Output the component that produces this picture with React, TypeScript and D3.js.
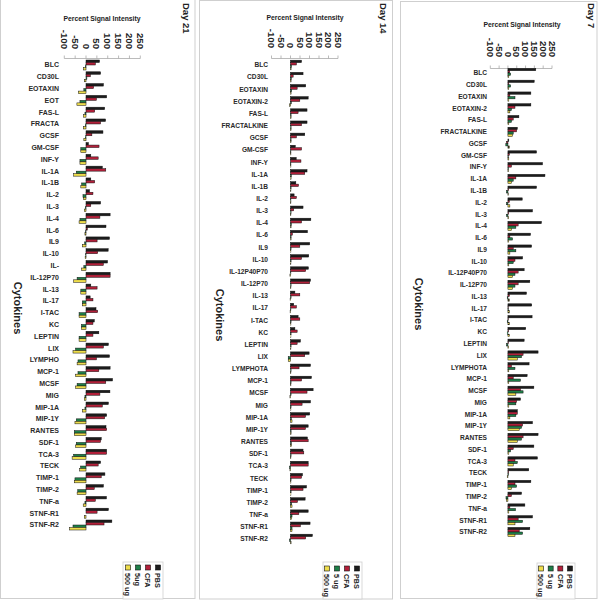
import React from "react";
import * as d3 from "d3";

const seriesKeys = ["PBS", "CFA", "5ug", "500ug"];
const seriesColors = ["#1c1c1c", "#b3203a", "#1e7f48", "#eedd4c"];
const tickValues = [-100, -50, 0, 50, 100, 150, 200, 250];

// Day 21
const day21Categories = ["BLC", "CD30L", "EOTAXIN", "EOT", "FAS-L", "FRACTA", "GCSF", "GM-CSF", "INF-Y", "IL-1A", "IL-1B", "IL-2", "IL-3", "IL-4", "IL-6", "IL9", "IL-10", "IL-", "IL-12P70", "IL-13", "IL-17", "I-TAC", "KC", "LEPTIN", "LIX", "LYMPHO", "MCP-1", "MCSF", "MIG", "MIP-1A", "MIP-1Y", "RANTES", "SDF-1", "TCA-3", "TECK", "TIMP-1", "TIMP-2", "TNF-a", "STNF-R1", "STNF-R2"];
const day21PBS = [62, 67, 80, 95, 86, 90, 78, 11, 22, 75, 22, 16, 67, 111, 92, 108, 102, 99, 111, 22, 19, 46, 38, 59, 103, 108, 111, 122, 110, 103, 95, 92, 70, 95, 67, 87, 80, 94, 103, 119];
const day21CFA = [43, 20, 35, 48, 40, 67, 27, 60, 56, 91, 40, 32, 22, 64, 6, 51, 54, 80, 111, 51, 32, 54, 32, 32, 80, 48, 59, 91, 64, 75, 86, 95, 67, 95, 56, 70, 38, 43, 51, 83];
const day21Low = [-3, 4, -10, -28, -5, -3, -3, -24, -28, -45, -20, -14, -3, -28, -2, -6, -2, -10, -41, -24, -17, -32, -21, -32, -48, -37, -37, -41, -5, -5, -45, -54, -45, -57, -25, -51, -38, -5, 0, -60];
const day21High = [-12, -8, -35, -42, -12, -12, -10, -24, -28, -57, -24, -12, -8, -32, -5, -17, -4, -20, -57, -24, -17, -32, -21, -32, -60, -41, -48, -48, -8, -17, -51, -54, -48, -64, -29, -54, -41, -13, -8, -76];

// Day 14
const day14Categories = ["BLC", "CD30L", "EOTAXIN", "EOTAXIN-2", "FAS-L", "FRACTALKINE", "GCSF", "GM-CSF", "INF-Y", "IL-1A", "IL-1B", "IL-2", "IL-3", "IL-4", "IL-6", "IL9", "IL-10", "IL-12P40P70", "IL-12P70", "IL-13", "IL-17", "I-TAC", "KC", "LEPTIN", "LIX", "LYMPHOTA", "MCP-1", "MCSF", "MIG", "MIP-1A", "MIP-1Y", "RANTES", "SDF-1", "TCA-3", "TECK", "TIMP-1", "TIMP-2", "TNF-a", "STNF-R1", "STNF-R2"];
const day14PBS = [58, 66, 80, 93, 87, 87, 75, 25, 30, 87, 28, 19, 66, 107, 89, 101, 96, 94, 105, 23, 17, 40, 23, 52, 98, 105, 110, 119, 105, 101, 93, 89, 66, 93, 63, 84, 77, 93, 103, 115];
const day14CFA = [31, 14, 35, 49, 40, 58, 31, 58, 55, 75, 42, 31, 17, 58, 10, 49, 58, 80, 101, 49, 31, 49, 35, 35, 75, 45, 58, 87, 61, 79, 79, 93, 70, 93, 58, 66, 37, 44, 52, 80];
const day14Low = [5, 4, 6, 4, 3, 3, 3, 2, 2, 4, 3, 2, 3, 4, 3, 3, 3, 2, 3, 3, 2, 3, 3, 3, -12, 3, 3, 3, 3, 4, 3, 4, 3, -5, 3, 3, 6, 8, 8, -5];
const day14High = [3, 3, 3, -5, 3, 3, 3, 2, 2, 3, 2, 2, 2, 3, 3, 2, 2, -3, 2, -2, -2, 2, 2, 2, -12, 2, 2, -3, 2, 8, 3, 5, 2, -3, 2, 2, 8, 6, 8, 3];

// Day 7
const day7Categories = ["BLC", "CD30L", "EOTAXIN", "EOTAXIN-2", "FAS-L", "FRACTALKINE", "GCSF", "GM-CSF", "INF-Y", "IL-1A", "IL-1B", "IL-2", "IL-3", "IL-4", "IL-6", "IL9", "IL-10", "IL-12P40P70", "IL-12P70", "IL-13", "IL-17", "I-TAC", "KC", "LEPTIN", "LIX", "LYMPHOTA", "MCP-1", "MCSF", "MIG", "MIP-1A", "MIP-1Y", "RANTES", "SDF-1", "TCA-3", "TECK", "TIMP-1", "TIMP-2", "TNF-a", "STNF-R1", "STNF-R2"];
const day7PBS = [158, 149, 130, 130, 62, 53, 5, 162, 196, 210, 162, 81, 139, 190, 128, 134, 83, 92, 124, 105, 135, 137, 101, 92, 171, 120, 109, 147, 71, 53, 139, 171, 147, 167, 118, 130, 77, 96, 139, 124];
const day7CFA = [10, 5, 11, 40, 30, 49, -8, 8, 20, 45, 4, 8, 4, 58, 11, 30, 40, 58, 58, 8, 2, 2, 4, 3, 86, 20, 30, 71, 49, 53, 83, 86, 30, 40, 4, 40, 20, 11, 58, 64];
const day7Low = [15, 15, 40, 20, 20, 30, -12, 2, 3, 30, -8, -8, -8, 45, 26, 45, 30, 40, 40, -4, 2, -4, -4, -8, 77, 40, 71, 86, 45, 45, 77, 77, 15, 53, 3, 49, -11, 43, 83, 83];
const day7High = [5, 5, 5, 11, 5, 26, 8, 5, 3, 20, 2, 11, 4, 20, 4, 11, 5, 26, 26, 8, 8, 8, 8, 4, 53, 5, 5, 45, 5, 11, 64, 53, 5, 30, -4, 20, -8, 5, 40, 40];

const legend21 = ["PBS", "CFA", "5ug", "500 ug"];
const legendOther = ["PBS", "CFA", "5 ug", "500 ug"];

const FONT = "'Liberation Sans', Arial, sans-serif";

type Layout = {
  frame: [number, number, number, number];
  xRange: [number, number];
  axisY: number;
  tickEnd: number;
  titleX: number;
  titleY: number;
  dayX: number;
  dayLabel: string;
  cytX: number;
  cytY: number;
  yRange: [number, number];
  labelX: number;
  labelSize: number;
  groupH: number;
  legendBox: [number, number, number, number];
  legendRange: [number, number];
  swatchY: number;
  legendTextY: number;
};

const layouts: Layout[] = [
  {
    frame: [0.5, -1, 194.5, 599.5], xRange: [64.3, 140.3], axisY: 58.5, tickEnd: 49,
    titleX: 102, titleY: 21, dayX: 186, dayLabel: "Day 21", cytX: 18, cytY: 308,
    yRange: [65, 525], labelX: 59, labelSize: 7, groupH: 10,
    legendBox: [123, 562, 40, 37], legendRange: [158, 128], swatchY: 565, legendTextY: 573,
  },
  {
    frame: [199.5, 0.5, 193, 598.5], xRange: [271.5, 338], axisY: 58.5, tickEnd: 48,
    titleX: 305, titleY: 20, dayX: 383, dayLabel: "Day 14", cytX: 220, cytY: 315,
    yRange: [65, 539], labelX: 268, labelSize: 6.6, groupH: 9.6,
    legendBox: [323, 562, 39, 37], legendRange: [357, 327], swatchY: 566, legendTextY: 574,
  },
  {
    frame: [400.5, 1.5, 196.5, 597], xRange: [490.3, 552], axisY: 68.5, tickEnd: 57,
    titleX: 522, titleY: 27, dayX: 591, dayLabel: "Day 7", cytX: 419, cytY: 304,
    yRange: [73, 532], labelX: 487, labelSize: 6.6, groupH: 9.2,
    legendBox: [537, 563, 38, 36], legendRange: [570, 541], swatchY: 566, legendTextY: 574,
  },
];

type PanelProps = {
  layout: Layout;
  categories: string[];
  series: number[][];
  legendNames: string[];
};

function Panel({ layout, categories, series, legendNames }: PanelProps) {
  const x = d3.scaleLinear().domain([-100, 250]).range(layout.xRange);
  const y = d3.scalePoint<string>().domain(categories).range(layout.yRange);
  const inner = d3
    .scaleBand<string>()
    .domain(seriesKeys)
    .range([-layout.groupH / 2, layout.groupH / 2]);
  const lx = d3.scalePoint<string>().domain(seriesKeys).range(layout.legendRange);
  const x0 = x(0);
  const [fx, fy, fw, fh] = layout.frame;
  const [bx, by, bw, bh] = layout.legendBox;

  return (
    <g fontFamily={FONT}>
      <rect x={fx} y={fy} width={fw} height={fh} fill="#fff" stroke="#cfcfcf" strokeWidth={1} />
      {/* title */}
      <text x={layout.titleX} y={layout.titleY} textAnchor="middle" fontSize={6.8} fontWeight="bold" fill="#222">
        Percent Signal Intensity
      </text>
      <text
        transform={`translate(${layout.dayX},3) rotate(90)`}
        dy="0.35em"
        fontSize={9.5}
        fontWeight="bold"
        fill="#222"
      >
        {layout.dayLabel}
      </text>
      {/* axis */}
      <line x1={x(-100)} x2={x(250)} y1={layout.axisY} y2={layout.axisY} stroke="#aaa" strokeWidth={0.8} />
      {tickValues.map((t) => (
        <g key={t}>
          <line x1={x(t)} x2={x(t)} y1={layout.axisY} y2={layout.axisY - 3} stroke="#aaa" strokeWidth={0.8} />
          <text
            transform={`translate(${x(t)},${layout.tickEnd}) rotate(90)`}
            dy="0.35em"
            textAnchor="end"
            fontSize={9.6}
            fontWeight="bold"
            fill="#222"
          >
            {t}
          </text>
        </g>
      ))}
      {/* y label */}
      <text
        transform={`translate(${layout.cytX},${layout.cytY}) rotate(90)`}
        dy="0.35em"
        textAnchor="middle"
        fontSize={11}
        fontWeight="bold"
        fill="#222"
      >
        Cytokines
      </text>
      {/* categories and bars */}
      {categories.map((c, i) => {
        const cy = y(c) as number;
        return (
          <g key={c + i}>
            <text x={layout.labelX} y={cy} dy="0.35em" textAnchor="end" fontSize={layout.labelSize} fontWeight="bold" fill="#2a2a2a">
              {c}
            </text>
            {seriesKeys.map((k, si) => {
              const v = series[si][i];
              const xv = x(v);
              return (
                <rect
                  key={k}
                  x={Math.min(x0, xv)}
                  y={cy + (inner(k) as number)}
                  width={Math.abs(xv - x0)}
                  height={inner.bandwidth()}
                  fill={seriesColors[si]}
                  stroke="#111"
                  strokeWidth={0.5}
                />
              );
            })}
          </g>
        );
      })}
      {/* legend */}
      <rect x={bx} y={by} width={bw} height={bh} fill="#fff" stroke="#cfcfcf" strokeWidth={0.8} />
      {seriesKeys.map((k, si) => {
        const px = lx(k) as number;
        return (
          <g key={k}>
            <rect x={px - 2.5} y={layout.swatchY} width={5} height={5} fill={seriesColors[si]} stroke="#111" strokeWidth={0.6} />
            <text
              transform={`translate(${px},${layout.legendTextY}) rotate(90)`}
              dy="0.35em"
              fontSize={7.2}
              fontWeight="bold"
              fill="#222"
            >
              {legendNames[si]}
            </text>
          </g>
        );
      })}
    </g>
  );
}

export default function App() {
  return (
    <div style={{ position: "absolute", left: 0, top: 0 }}>
      <svg width={599} height={600} style={{ display: "block", background: "#fff" }}>
        <Panel
          layout={layouts[0]}
          categories={day21Categories}
          series={[day21PBS, day21CFA, day21Low, day21High]}
          legendNames={legend21}
        />
        <Panel
          layout={layouts[1]}
          categories={day14Categories}
          series={[day14PBS, day14CFA, day14Low, day14High]}
          legendNames={legendOther}
        />
        <Panel
          layout={layouts[2]}
          categories={day7Categories}
          series={[day7PBS, day7CFA, day7Low, day7High]}
          legendNames={legendOther}
        />
      </svg>
    </div>
  );
}
